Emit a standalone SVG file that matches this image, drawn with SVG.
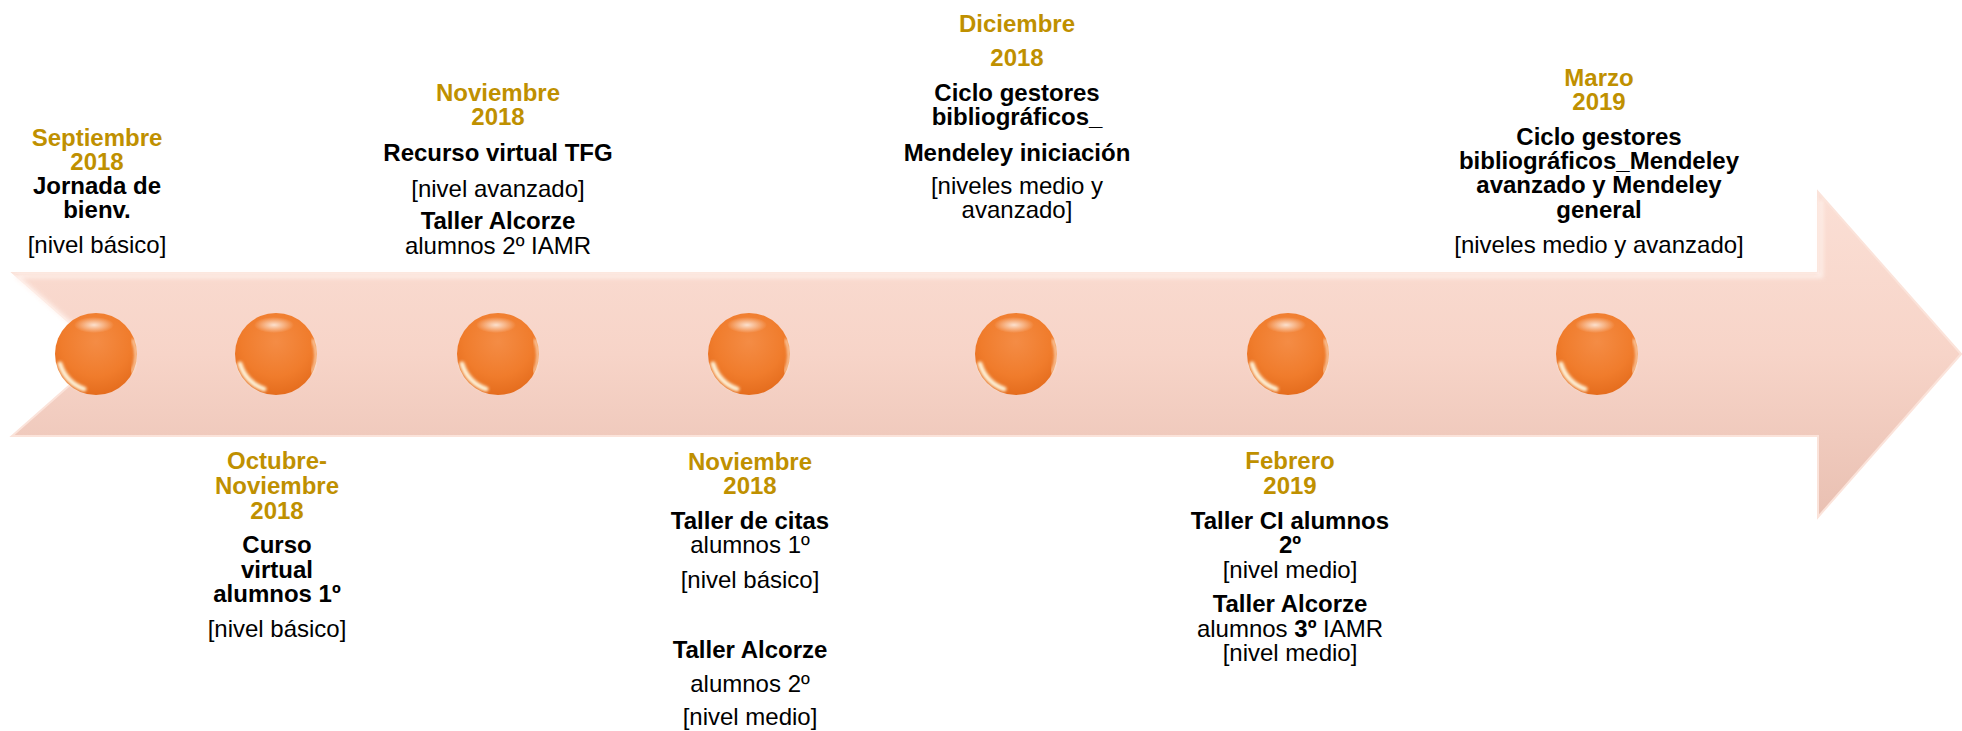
<svg xmlns="http://www.w3.org/2000/svg" xmlns:xlink="http://www.w3.org/1999/xlink" width="1962" height="731" viewBox="0 0 1962 731">
<style>
text{font-family:"Liberation Sans",Arial,sans-serif;font-size:24px;text-anchor:middle;fill:#000}
.d{fill:#BF9000;font-weight:bold}
.b{font-weight:bold}
</style>
<defs>
<linearGradient id="ag" x1="0" y1="0" x2="0" y2="1">
<stop offset="0" stop-color="#FBDFD5"/>
<stop offset="0.5" stop-color="#F7D4C8"/>
<stop offset="1" stop-color="#E9C0B2"/>
</linearGradient>
<radialGradient id="sg" cx="0.5" cy="0.35" r="0.7">
<stop offset="0" stop-color="#F48C45"/>
<stop offset="0.6" stop-color="#F07C2C"/>
<stop offset="1" stop-color="#E2691A"/>
</radialGradient>
<radialGradient id="th" cx="0.5" cy="0.5" r="0.5">
<stop offset="0" stop-color="#FFF" stop-opacity="0.75"/>
<stop offset="1" stop-color="#FFF" stop-opacity="0"/>
</radialGradient>
<filter id="bl" x="-20%" y="-20%" width="140%" height="140%"><feGaussianBlur stdDeviation="1.5"/></filter>
<filter id="bl2" x="-20%" y="-20%" width="140%" height="140%"><feGaussianBlur stdDeviation="2"/></filter>
<g id="sphere">
<circle r="41" fill="url(#sg)"/>
<ellipse cx="-2" cy="-29" rx="20" ry="8" fill="url(#th)"/>
<path d="M -36 10 A 37 37 0 0 0 -12 35" fill="none" stroke="#FFF8E0" stroke-width="5" stroke-linecap="round" filter="url(#bl)" opacity="0.95"/>
<path d="M 37 -14 A 40 40 0 0 1 36 18" fill="none" stroke="#FFE9D0" stroke-width="2.5" stroke-linecap="round" filter="url(#bl)" opacity="0.9"/>
</g>
</defs>

<g id="timeline-arrow">
<path d="M13 273 L1818 273 L1818 192 L1961 354 L1818 517 L1818 436 L12 436 L105 354 Z" fill="url(#ag)" stroke="#FBE3DA" stroke-width="2"/>
<path d="M16 276 L1821 276 L1821 200 M16 276 L104 352" fill="none" stroke="#FFF3EE" stroke-width="4" filter="url(#bl2)" opacity="0.9"/>
</g>

<g id="connectors"></g>

<g id="n1">
<use xlink:href="#sphere" x="96" y="354"/>
<text class="d" x="97" y="146">Septiembre</text>
<text class="d" x="97" y="170">2018</text>
<text class="b" x="97" y="194">Jornada de</text>
<text class="b" x="97" y="218">bienv.</text>
<text x="97" y="253">[nivel básico]</text>
</g>

<g id="n2">
<use xlink:href="#sphere" x="276" y="354"/>
<text class="d" x="277" y="469">Octubre-</text>
<text class="d" x="277" y="494">Noviembre</text>
<text class="d" x="277" y="519">2018</text>
<text class="b" x="277" y="553">Curso</text>
<text class="b" x="277" y="578">virtual</text>
<text class="b" x="277" y="602">alumnos 1º</text>
<text x="277" y="637">[nivel básico]</text>
</g>

<g id="n3">
<use xlink:href="#sphere" x="498" y="354"/>
<text class="d" x="498" y="101">Noviembre</text>
<text class="d" x="498" y="125">2018</text>
<text class="b" x="498" y="161">Recurso virtual TFG</text>
<text x="498" y="197">[nivel avanzado]</text>
<text class="b" x="498" y="229">Taller Alcorze</text>
<text x="498" y="254">alumnos 2º IAMR</text>
</g>

<g id="n4">
<use xlink:href="#sphere" x="749" y="354"/>
<text class="d" x="750" y="470">Noviembre</text>
<text class="d" x="750" y="494">2018</text>
<text class="b" x="750" y="529">Taller de citas</text>
<text x="750" y="553">alumnos 1º</text>
<text x="750" y="588">[nivel básico]</text>
<text class="b" x="750" y="658">Taller Alcorze</text>
<text x="750" y="692">alumnos 2º</text>
<text x="750" y="725">[nivel medio]</text>
</g>

<g id="n5">
<use xlink:href="#sphere" x="1016" y="354"/>
<text class="d" x="1017" y="32">Diciembre</text>
<text class="d" x="1017" y="66">2018</text>
<text class="b" x="1017" y="101">Ciclo gestores</text>
<text class="b" x="1017" y="125">bibliográficos_</text>
<text class="b" x="1017" y="161">Mendeley iniciación</text>
<text x="1017" y="194">[niveles medio y</text>
<text x="1017" y="218">avanzado]</text>
</g>

<g id="n6">
<use xlink:href="#sphere" x="1288" y="354"/>
<text class="d" x="1290" y="469">Febrero</text>
<text class="d" x="1290" y="494">2019</text>
<text class="b" x="1290" y="529">Taller CI alumnos</text>
<text class="b" x="1290" y="553">2º</text>
<text x="1290" y="578">[nivel medio]</text>
<text class="b" x="1290" y="612">Taller Alcorze</text>
<text x="1290" y="637">alumnos <tspan class="b">3º</tspan> IAMR</text>
<text x="1290" y="661">[nivel medio]</text>
</g>

<g id="n7">
<use xlink:href="#sphere" x="1597" y="354"/>
<text class="d" x="1599" y="86">Marzo</text>
<text class="d" x="1599" y="110">2019</text>
<text class="b" x="1599" y="145">Ciclo gestores</text>
<text class="b" x="1599" y="169">bibliográficos_Mendeley</text>
<text class="b" x="1599" y="193">avanzado y Mendeley</text>
<text class="b" x="1599" y="218">general</text>
<text x="1599" y="253">[niveles medio y avanzado]</text>
</g>
</svg>
